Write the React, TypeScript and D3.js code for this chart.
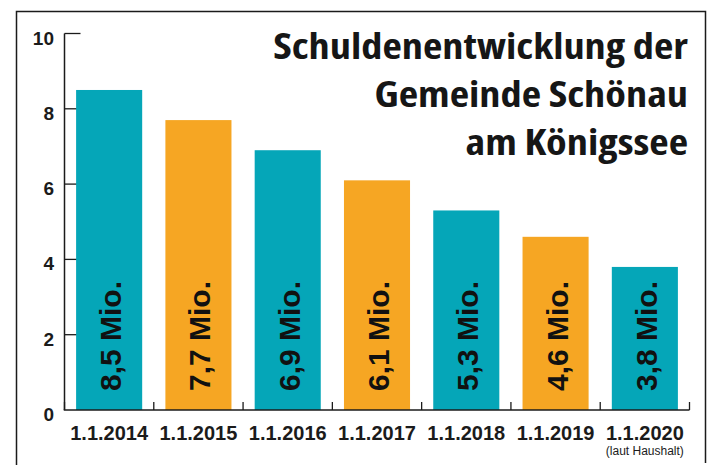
import React from "react";
import * as d3 from "d3";

const categories = ["1.1.2014", "1.1.2015", "1.1.2016", "1.1.2017", "1.1.2018", "1.1.2019", "1.1.2020"];
const values = [8.5, 7.7, 6.9, 6.1, 5.3, 4.6, 3.8];
const valueLabels = ["8,5 Mio.", "7,7 Mio.", "6,9 Mio.", "6,1 Mio.", "5,3 Mio.", "4,6 Mio.", "3,8 Mio."];
const barColors = ["#05a6b8", "#f6a623", "#05a6b8", "#f6a623", "#05a6b8", "#f6a623", "#05a6b8"];
const yTicks = [0, 2, 4, 6, 8, 10];
const titleLines = ["Schuldenentwicklung der", "Gemeinde Schönau", "am Königssee"];
const footnote = "(laut Haushalt)";

const W = 710;
const H = 465;
const x0 = 64.5;
const x1 = 689.5;
const yBase = 410;
const yTop = 33.5;

export default function App() {
  const x = d3.scaleBand<string>().domain(categories).range([x0, x1]).paddingInner(0.26).paddingOuter(0.13);
  const y = d3.scaleLinear().domain([0, 10]).range([yBase, yTop]);
  const step = x.step();
  const bw = x.bandwidth();
  const boundaries = d3.range(categories.length + 1).map((i) => x0 + i * step);
  const ink = "#1b1b1b";
  return (
    <svg width={W} height={H} style={{ position: "absolute", left: 0, top: 0 }} fontFamily="'Liberation Sans', Arial, sans-serif">
      <rect x={0} y={0} width={W} height={H} fill="#fff" />
      {/* frame */}
      <path d={`M16.5,${H + 5} L16.5,11.5 L705.5,11.5 L705.5,463`} fill="none" stroke={ink} strokeWidth={1.5} />
      {/* y ticks (behind bars) */}
      {yTicks.filter((t) => t > 0).map((t) => (
        <line key={t} x1={x0} x2={x0 + 16} y1={y(t)} y2={y(t)} stroke={ink} strokeWidth={1.3} />
      ))}
      {/* y axis */}
      <line x1={x0} x2={x0} y1={yTop} y2={yBase} stroke={ink} strokeWidth={1.5} />
      {yTicks.map((t) => (
        <text key={t} x={54} y={y(t) + 11} textAnchor="end" fontSize={19} fontWeight="bold" fill={ink}>
          {t}
        </text>
      ))}
      {/* bars */}
      {categories.map((c, i) => (
        <rect key={c} x={x(c)} y={y(values[i])} width={bw} height={yBase - y(values[i])} fill={barColors[i]} />
      ))}
      {/* baseline */}
      <line x1={x0 - 0.75} x2={x1} y1={yBase} y2={yBase} stroke={ink} strokeWidth={1.5} />
      {boundaries.map((b, i) => (
        <line key={i} x1={b} x2={b} y1={yBase} y2={yBase - 8} stroke={ink} strokeWidth={1.3} />
      ))}
      {/* value labels inside bars */}
      {categories.map((c, i) => {
        const cx = (x(c) as number) + bw / 2;
        return (
          <text
            key={c}
            transform={`translate(${cx + 12},${yBase - 19}) rotate(-90)`}
            fontFamily="'Liberation Sans Narrow', 'Arial Narrow', sans-serif"
            fontWeight="bold"
            fontSize={30}
            fill="#111"
          >
            {valueLabels[i]}
          </text>
        );
      })}
      {/* x labels */}
      {categories.map((c) => (
        <text key={c} x={(x(c) as number) + bw / 2} y={440} textAnchor="middle" fontSize={20} fontWeight="bold" fill={ink}>
          {c}
        </text>
      ))}
      <text x={(x(categories[6]) as number) + bw / 2} y={455} textAnchor="middle" fontSize={12} fill={ink}>
        {footnote}
      </text>
      {/* title */}
      <g transform="translate(688,0) scale(1.21,1)">
        {titleLines.map((l, i) => (
          <text
            key={i}
            x={0}
            y={59 + i * 48}
            textAnchor="end"
            fontFamily="'Open Sans', sans-serif"
            fontWeight="bold"
            fontSize={35}
            style={{ fontStretch: "75%" }}
            fill="#161616"
          >
            {l}
          </text>
        ))}
      </g>
    </svg>
  );
}
